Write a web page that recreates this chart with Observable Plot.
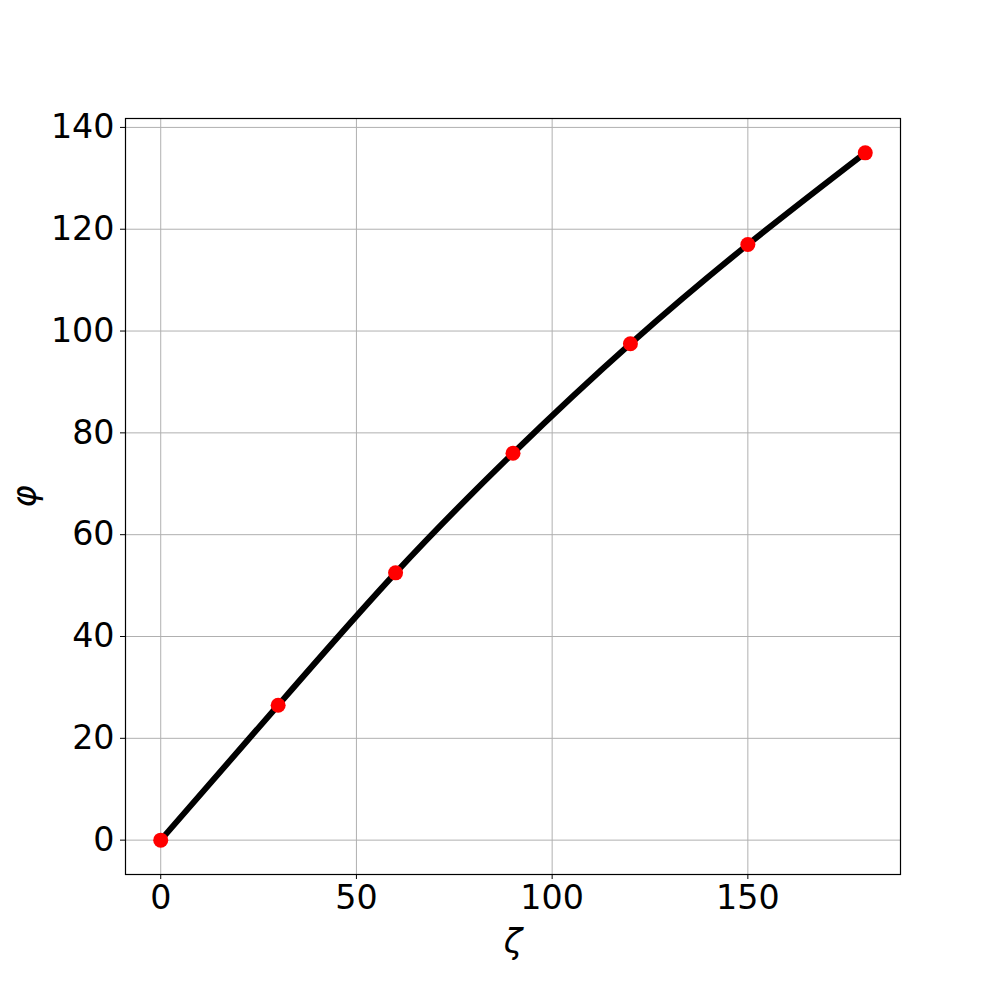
<!DOCTYPE html>
<html>
<head>
<meta charset="utf-8">
<script src="https://cdn.jsdelivr.net/npm/d3@7"></script>
<script src="https://cdn.jsdelivr.net/npm/@observablehq/plot@0.6"></script>
<style>
  html, body { margin: 0; padding: 0; background: #fff; }
  svg { display: block; }
</style>
</head>
<body>
<div id="chart"></div>
<script>
const zeta = [0, 30, 60, 90, 120, 150, 180];
const phi = [0, 26.5, 52.5, 76, 97.5, 117, 135];
const xTicks = [0, 50, 100, 150];
const yTicks = [0, 20, 40, 60, 80, 100, 120, 140];

const data = zeta.map((z, i) => ({zeta: z, phi: phi[i]}));

const chart = Plot.plot({
  width: 1000,
  height: 982,
  marginLeft: 125,
  marginRight: 100,
  marginTop: 118,
  marginBottom: 108,
  style: {fontFamily: "DejaVu Sans", background: "#fff"},
  x: {domain: [-9, 189], label: null},
  y: {domain: [-6.75, 141.75], label: null},
  marks: [
    Plot.ruleX(xTicks, {stroke: "#b0b0b0", strokeWidth: 1}),
    Plot.ruleY(yTicks, {stroke: "#b0b0b0", strokeWidth: 1}),
    Plot.axisX({ticks: xTicks, tickSize: 5, tickPadding: 6, fontSize: 33.3, stroke: "#000", color: "#000", label: null, tickFormat: d => String(d)}),
    Plot.axisY({ticks: yTicks, tickSize: 5, tickPadding: 6, fontSize: 33.3, stroke: "#000", color: "#000", label: null, tickFormat: d => String(d)}),
    Plot.frame({stroke: "#000", strokeWidth: 1.2}),
    Plot.line(data, {x: "zeta", y: "phi", curve: "natural", stroke: "#000", strokeWidth: 6}),
    Plot.dot(data, {x: "zeta", y: "phi", r: 7.5, fill: "#ff0000", stroke: "none"}),
    Plot.text(["ζ"], {frameAnchor: "bottom", dy: 68, fontSize: 34, fontStyle: "italic", fill: "#000", lineAnchor: "middle", textAnchor: "middle"}),
    Plot.text(["φ"], {frameAnchor: "left", dx: -100, fontSize: 34, fontStyle: "italic", fill: "#000", rotate: -90, lineAnchor: "middle", textAnchor: "middle"})
  ]
});
document.getElementById("chart").appendChild(chart);
</script>
</body>
</html>
